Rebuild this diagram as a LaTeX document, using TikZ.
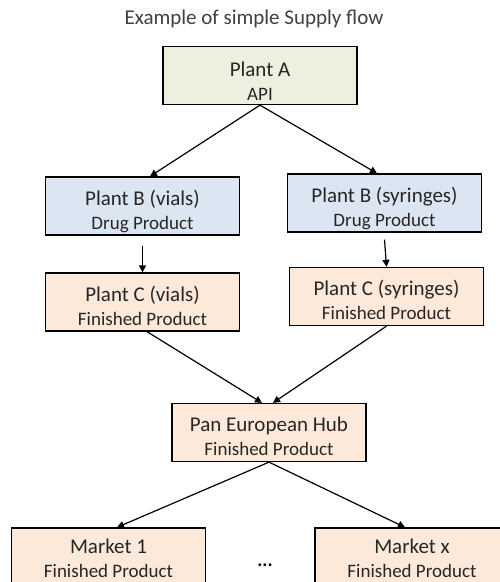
\documentclass[tikz,border=0pt]{standalone}
\usepackage{fontspec}
\setmainfont{Carlito}
\usetikzlibrary{arrows.meta}
\definecolor{grA}{HTML}{EBF1DE}
\definecolor{blB}{HTML}{DCE6F2}
\definecolor{peC}{HTML}{FDE9D9}
\definecolor{titlec}{HTML}{404040}
\tikzset{
  box/.style={draw=black, line width=1.3pt, minimum width=194pt, minimum height=58pt, align=center, inner sep=0pt, text=black!85, font=\fontsize{21}{24}\selectfont},
  conn/.style={line width=1.2pt, -{Triangle[length=7pt,width=7pt]}},
}
\newcommand{\bl}[3][26]{\rule{0pt}{#1pt}#2\\{\fontsize{19}{24}\selectfont #3}\rule[-4pt]{0pt}{4pt}}
\begin{document}
\begin{tikzpicture}[x=1pt,y=-1pt]
\clip (0,0) rectangle (500,582);
\fill[white] (0,0) rectangle (500,582);
\node[text=titlec, font=\fontsize{21}{24}\selectfont] (title) at (254,19) {Example of simple Supply flow};
\node[box, fill=grA] (pa) at (260,75.5) {\bl[29]{Plant A}{API}};
\node[box, fill=blB] (bv) at (142.5,206) {\bl{Plant B (vials)}{Drug Product}};
\node[box, fill=blB] (bs) at (384.5,203) {\bl{Plant B (syringes)}{Drug Product}};
\node[box, fill=peC] (cv) at (142.5,302) {\bl{Plant C (vials)}{Finished Product}};
\node[box, fill=peC] (cs) at (386.5,296.5) {\bl{Plant C (syringes)}{Finished Product}};
\node[box, fill=peC] (hub) at (269,432.5) {\bl{Pan European Hub}{Finished Product}};
\node[box, fill=peC] (m1) at (108.5,557) {\bl[21]{Market 1}{Finished Product}};
\node[box, fill=peC] (mx) at (412,557) {\bl[21]{Market x}{Finished Product}};
\node[font=\fontsize{19}{22}\selectfont] (dots) at (265,565) {\textbf{...}};
\draw[conn] (pa.south) -- ([xshift=7.5pt]bv.north);
\draw[conn] (pa.south) -- ([xshift=-7.5pt]bs.north);
\draw[conn] ([yshift=-10pt]bv.south) -- (cv.north);
\draw[conn] ([yshift=-7pt]bs.south) -- (cs.north);
\draw[conn] ([xshift=4.5pt]cv.south) -- ([xshift=-7pt]hub.north);
\draw[conn] (cs.south) -- ([xshift=4pt]hub.north);
\draw[conn] (hub.south) -- ([xshift=8.5pt]m1.north);
\draw[conn] (hub.south) -- ([xshift=-7pt]mx.north);
\end{tikzpicture}
\end{document}
